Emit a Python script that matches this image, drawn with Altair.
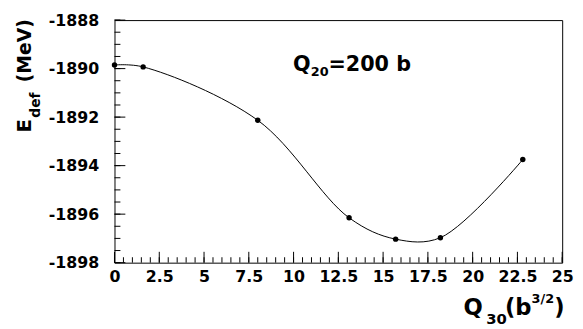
import altair as alt
import numpy as np
import pandas as pd

# data
q30 = [0.0, 1.6, 8.0, 13.1, 15.7, 18.2, 22.8]
edef = [-1889.85, -1889.93, -1892.13, -1896.15, -1897.03, -1896.97, -1893.75]

x_major = [0, 2.5, 5, 7.5, 10, 12.5, 15, 17.5, 20, 22.5, 25]
y_major = [-1898, -1896, -1894, -1892, -1890, -1888]
x_minor = [round(float(v), 1) for v in np.arange(0, 25.01, 0.5)]
y_minor = [round(float(v), 1) for v in np.arange(-1898, -1887.99, 0.5)]

W, H = 454, 246
FONT = "DejaVu Sans"

xs = alt.Scale(domain=[0, 25], nice=False, zero=False)
ys = alt.Scale(domain=[-1898, -1888], nice=False, zero=False)

df = pd.DataFrame({"q30": q30, "edef": edef})

common_axis = dict(
    labelExpr="datum.value + ''", ticks=False, tickSize=0, domain=False, grid=False,
    title=None, labelFont=FONT, labelFontWeight="bold", labelFontSize=16,
    labelColor="black", labelFlush=False, labelOverlap=False, labelBound=False,
)
xaxis = alt.Axis(values=x_major, labelPadding=6, **common_axis)
yaxis = alt.Axis(values=y_major, labelPadding=16, **common_axis)

line = alt.Chart(df).mark_line(interpolate="catmull-rom", color="black", strokeWidth=1).encode(
    x=alt.X("q30:Q", scale=xs, axis=xaxis),
    y=alt.Y("edef:Q", scale=ys, axis=yaxis),
)
pts = alt.Chart(df).mark_circle(size=30, color="black", opacity=1).encode(
    x=alt.X("q30:Q", scale=xs, axis=xaxis),
    y=alt.Y("edef:Q", scale=ys, axis=yaxis),
)


def yticks(vals, length):
    return alt.Chart(pd.DataFrame({"v": vals})).mark_rule(color="black", strokeWidth=1).encode(
        y=alt.Y("v:Q", scale=ys, axis=yaxis), x=alt.value(0), x2=alt.value(length)
    )


def xticks(vals, length):
    return alt.Chart(pd.DataFrame({"v": vals})).mark_rule(color="black", strokeWidth=1).encode(
        x=alt.X("v:Q", scale=xs, axis=xaxis), y=alt.value(H), y2=alt.value(H - length)
    )


dummy = pd.DataFrame({"d": [0]})


def txt(s, x, y, size, angle=0):
    return alt.Chart(dummy).mark_text(
        text=s, font=FONT, fontWeight="bold", fontSize=size, color="black",
        align="left", baseline="alphabetic", angle=angle,
    ).encode(x=alt.value(x), y=alt.value(y))


texts = [
    # annotation Q20=200 b
    txt("Q", 181, 52, 21),
    txt("20", 199, 57, 13),
    txt("=200 b", 217, 52, 21),
    # x title Q30(b^3/2)
    txt("Q", 354, 299, 23),
    txt("30", 377, 308, 15),
    txt("(b", 396, 299, 23),
    txt("3/2", 423, 287, 13),
    txt(")", 446, 299, 23),
    # y title E_def (MeV)
    txt("E", -85, 114, 20, 270),
    txt("def", -76, 99, 14, 270),
    txt("(MeV)", -85, 63, 19, 270),
]

chart = alt.layer(
    line, pts,
    yticks(y_minor, 6), yticks(y_major, 11),
    xticks(x_minor, 5.5), xticks(x_major, 11),
    *texts,
).properties(
    width=W, height=H,
    autosize=alt.AutoSizeParams(type="none"),
    padding={"left": 108, "top": 10, "right": 13, "bottom": 64},
    background="white",
).configure_view(stroke="black", strokeWidth=1)

chart.save("out.html", embed_options={"renderer": "svg", "actions": False})
